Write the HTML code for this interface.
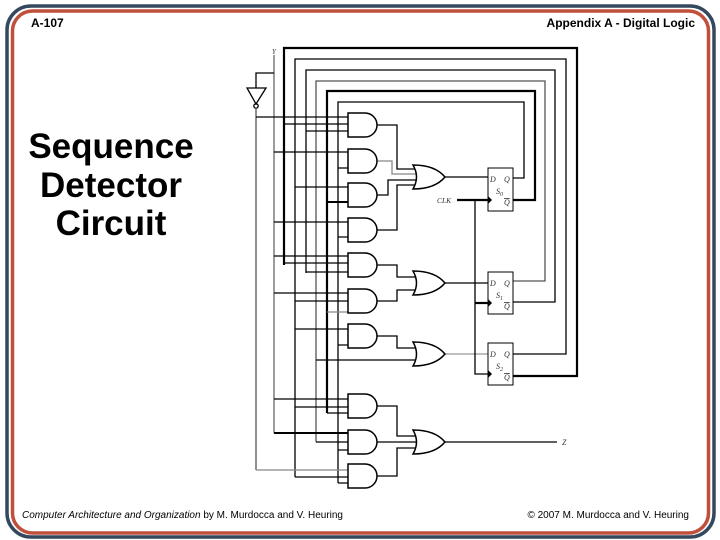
<!DOCTYPE html>
<html><head><meta charset="utf-8"><style>
html,body{margin:0;padding:0;background:#fff;}
svg{display:block;}
</style></head><body>
<svg width="720" height="540" viewBox="0 0 720 540" xmlns="http://www.w3.org/2000/svg">
<rect x="0" y="0" width="720" height="540" fill="#fff"/>
<rect x="7" y="6" width="707" height="531" rx="24" fill="none" stroke="#34495e" stroke-width="3.5"/>
<rect x="12.5" y="11" width="696" height="522" rx="20" fill="none" stroke="#c0503c" stroke-width="3.5"/>
<g font-family="Liberation Sans, sans-serif" fill="#000">
<text x="31" y="27" font-size="12" font-weight="bold">A-107</text>
<text x="695" y="27" font-size="12" font-weight="bold" text-anchor="end">Appendix A - Digital Logic</text>
<text x="111" y="158" font-size="35" font-weight="bold" text-anchor="middle">Sequence</text>
<text x="111" y="197" font-size="35" font-weight="bold" text-anchor="middle">Detector</text>
<text x="111" y="235" font-size="35" font-weight="bold" text-anchor="middle">Circuit</text>
<text x="22" y="518" font-size="10" textLength="321" lengthAdjust="spacingAndGlyphs"><tspan font-style="italic">Computer Architecture and Organization</tspan> by M. Murdocca and V. Heuring</text>
<text x="689" y="518" font-size="10" text-anchor="end">© 2007 M. Murdocca and V. Heuring</text>
</g>
<g stroke="#000" stroke-width="1.3" fill="none">
<path d="M284 265 V48 H577 V376 H513" stroke-width="2.2"/>
<path d="M295 477 V59 H566 V354 H513"/>
<path d="M306 273 V70 H555 V302 H513"/>
<path d="M316 442 V81 H545 V281 H513" stroke="#555"/>
<path d="M327 413 V91 H535 V200 H513" stroke-width="2.2"/>
<path d="M338 483 V102 H524 V178 H513"/>
<path d="M274 55 V433" stroke="#666"/>
<path d="M274 73 H256 V88"/>
<path d="M247 88 H266 L256 104 Z"/>
<circle cx="256" cy="106" r="2.2"/>
<path d="M256 108 V470" stroke="#555"/>
<path d="M256 117 H348 M284 124 H348 M306 131 H348"/>
<path d="M274 152 H348 M338 168 H348"/>
<path d="M295 187 H348"/><path d="M327 202 H348" stroke-width="2"/>
<path d="M274 222 H348 M338 237 H348"/>
<path d="M274 256 H348 M284 263 H348 M306 272 H348"/>
<path d="M274 293 H348 M295 301 H348"/><path d="M327 312 H348" stroke="#888"/>
<path d="M295 329 H348 M338 345 H348"/>
<path d="M316 360 H418"/>
<path d="M274 399 H348 M295 407 H348 M327 413 H348"/>
<path d="M274 433 H348" stroke-width="2"/><path d="M316 442 H348 M338 450 H348"/>
<path d="M256 470 H348" stroke="#888"/><path d="M295 477 H348 M338 483 H348"/>
<path d="M377 125 H397 V169 H416"/>
<path d="M377 161 H392 V174 H418" stroke="#888"/>
<path d="M377 195 H388 V180 H418"/>
<path d="M377 230 H397 V185 H416"/>
<path d="M377 265 H397 V277 H416"/>
<path d="M377 301 H397 V290 H416"/>
<path d="M377 336 H397 V348 H416"/>
<path d="M377 406 H397 V436 H416"/>
<path d="M377 442 H418"/>
<path d="M377 476 H397 V448 H416"/>
<path d="M445 177 H488"/>
<path d="M445 283 H488"/>
<path d="M445 354 H488" stroke="#999"/>
<path d="M445 442 H557"/>
<path d="M457 200 H488" stroke-width="2.2"/>
<path d="M475 200 V374 H488"/>
<path d="M475 303 H488" stroke-width="2.2"/>
</g>
<g stroke="#000" stroke-width="1.5" fill="#fff">
<path d="M348 113 H365 A12 12 0 0 1 365 137 H348 Z"/>
<path d="M348 149 H365 A12 12 0 0 1 365 173 H348 Z"/>
<path d="M348 183 H365 A12 12 0 0 1 365 207 H348 Z"/>
<path d="M348 218 H365 A12 12 0 0 1 365 242 H348 Z"/>
<path d="M348 253 H365 A12 12 0 0 1 365 277 H348 Z"/>
<path d="M348 289 H365 A12 12 0 0 1 365 313 H348 Z"/>
<path d="M348 324 H365 A12 12 0 0 1 365 348 H348 Z"/>
<path d="M348 394 H365 A12 12 0 0 1 365 418 H348 Z"/>
<path d="M348 430 H365 A12 12 0 0 1 365 454 H348 Z"/>
<path d="M348 464 H365 A12 12 0 0 1 365 488 H348 Z"/>
<path d="M413 165 Q420 177 413 189 Q435 189 445 177 Q435 165 413 165 Z"/>
<path d="M413 271 Q420 283 413 295 Q435 295 445 283 Q435 271 413 271 Z"/>
<path d="M413 342 Q420 354 413 366 Q435 366 445 354 Q435 342 413 342 Z"/>
<path d="M413 430 Q420 442 413 454 Q435 454 445 442 Q435 430 413 430 Z"/>
</g>
<g stroke="#000" stroke-width="1" fill="#fff">
<rect x="488" y="168" width="25" height="43"/>
<rect x="488" y="272" width="25" height="42"/>
<rect x="488" y="343" width="25" height="42"/>
</g>
<g fill="#000">
<path d="M488 196 L492 200 L488 204 Z"/>
<path d="M488 299 L492 303 L488 307 Z"/>
<path d="M488 370 L492 374 L488 378 Z"/>
</g>
<g font-family="Liberation Serif, serif" font-style="italic" font-size="8" fill="#333">
<text x="490" y="182">D</text><text x="504" y="182">Q</text>
<text x="496" y="194">S<tspan font-size="6" dy="2">0</tspan></text>
<text x="504" y="205" text-decoration="overline">Q</text>
<text x="490" y="286">D</text><text x="504" y="286">Q</text>
<text x="496" y="298">S<tspan font-size="6" dy="2">1</tspan></text>
<text x="504" y="309" text-decoration="overline">Q</text>
<text x="490" y="357">D</text><text x="504" y="357">Q</text>
<text x="496" y="369">S<tspan font-size="6" dy="2">2</tspan></text>
<text x="504" y="380" text-decoration="overline">Q</text>
<text x="437" y="203" font-size="7.5">CLK</text>
<text x="562" y="445">Z</text>
<text x="272" y="54" font-size="7">Y</text>
</g>
</svg>
</body></html>
